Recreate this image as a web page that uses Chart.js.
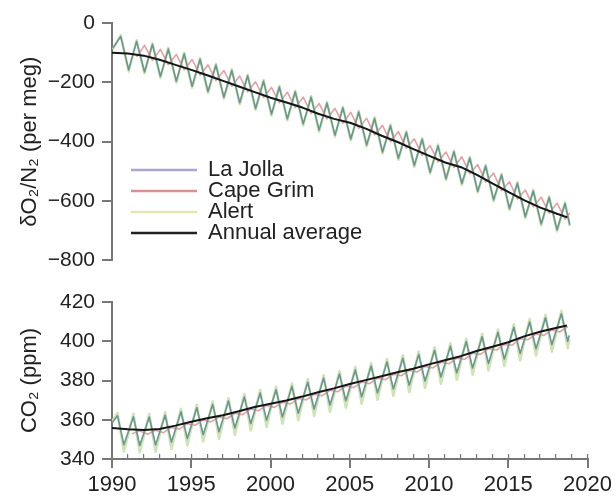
<!DOCTYPE html>
<html>
<head>
<meta charset="utf-8">
<title>O2/N2 and CO2 records</title>
<script src="https://cdn.jsdelivr.net/npm/chart.js@4.4.1/dist/chart.umd.min.js"></script>
<style>
    html, body { margin: 0; padding: 0; background: #fff; }
    #wrap { position: relative; width: 616px; height: 498px; }
    #o2Chart { position: absolute; left: 0; top: 0; }
    #co2Chart { position: absolute; left: 0; top: 280px; }
</style>
</head>
<body>
<div id="wrap">
    <canvas id="o2Chart" width="616" height="280"></canvas>
    <canvas id="co2Chart" width="616" height="218"></canvas>
</div>
<script>
// Years covered by the seasonal cycles
const years = [1990, 1991, 1992, 1993, 1994, 1995, 1996, 1997, 1998, 1999,
    2000, 2001, 2002, 2003, 2004, 2005, 2006, 2007, 2008, 2009,
    2010, 2011, 2012, 2013, 2014, 2015, 2016, 2017, 2018];
const annualYears = [1990, 1991, 1992, 1993, 1994, 1995, 1996, 1997, 1998, 1999,
    2000, 2001, 2002, 2003, 2004, 2005, 2006, 2007, 2008, 2009,
    2010, 2011, 2012, 2013, 2014, 2015, 2016, 2017, 2018, 2018.7];

// Tick labels
const xTicks = [1990, 1995, 2000, 2005, 2010, 2015, 2020];
const o2Ticks = [0, -200, -400, -600, -800];
const co2Ticks = [340, 360, 380, 400, 420];

// δO2/N2 (per meg) - seasonal minima / maxima per year
const laJollaO2Low = [-85, -158, -165, -180, -196, -213, -231, -250, -269, -288, -307, -323, -340, -361, -378, -391, -411, -435, -456, -480, -503, -525, -541, -567, -596, -625, -653, -677, -697];
const laJollaO2High = [-45, -62, -72, -88, -104, -122, -142, -160, -178, -196, -216, -232, -250, -270, -286, -300, -322, -346, -368, -392, -414, -434, -455, -482, -512, -540, -566, -588, -608];
const laJollaO2End = [2018.85, -680];

const alertO2Low = [-88, -163, -170, -185, -201, -218, -236, -255, -274, -293, -312, -328, -345, -366, -383, -396, -416, -440, -461, -485, -508, -530, -546, -572, -601, -630, -658, -682, -702];
const alertO2High = [-41, -58, -68, -84, -100, -118, -138, -156, -174, -192, -212, -228, -246, -266, -282, -296, -318, -342, -364, -388, -410, -430, -451, -478, -508, -536, -562, -584, -604];
const alertO2End = [2018.85, -684];

const capeGrimO2High = [null, null, -75, -89, -106, -123, -141, -160, -179, -198, -217, -233, -250, -271, -288, -301, -321, -345, -366, -390, -413, -435, -451, -477, -506, -535, -563, -587, -607];
const capeGrimO2Low = [null, -115, -126, -141, -158, -176, -194, -213, -232, -251, -269, -285, -305, -323, -338, -355, -377, -400, -422, -446, -468, -487, -508, -536, -565, -593, -619, -641, -661];
const capeGrimO2End = [2018.85, -640];

const annualO2 = [-100, -103, -110, -124, -141, -158, -176, -195, -214, -233, -252, -268, -285, -306, -323, -336, -356, -380, -401, -425, -448, -470, -486, -512, -541, -570, -598, -622, -642, -655];

// CO2 (ppm) - seasonal maxima / minima per year
const laJollaCo2High = [362.0, 361.5, 361.4, 362.3, 364.1, 366.1, 367.8, 369.5, 371.6, 373.6, 375.3, 377.0, 379.1, 381.2, 383.3, 385.4, 387.4, 389.4, 391.3, 393.3, 395.4, 397.5, 399.8, 402.3, 404.5, 407.1, 409.8, 412.0, 414.0];
const laJollaCo2Low = [347.3, 346.9, 347.2, 348.6, 350.5, 352.4, 353.9, 355.8, 358.0, 359.8, 361.4, 363.3, 365.5, 367.5, 369.7, 371.7, 373.7, 375.7, 377.6, 379.7, 381.8, 383.9, 386.4, 388.7, 390.9, 393.8, 396.2, 398.3, 400.0];
const laJollaCo2Start = [1990.0, 358.5];
const laJollaCo2End = [2018.85, 403.0];

const alertCo2High = [363.5, 363.0, 362.9, 363.8, 365.6, 367.6, 369.3, 371.0, 373.1, 375.1, 376.8, 378.5, 380.6, 382.7, 384.8, 386.9, 388.9, 390.9, 392.8, 394.8, 396.9, 399.0, 401.3, 403.8, 406.0, 408.6, 411.3, 413.5, 415.5];
const alertCo2Low = [343.8, 343.4, 343.7, 345.1, 347.0, 348.9, 350.4, 352.3, 354.5, 356.3, 357.9, 359.8, 362.0, 364.0, 366.2, 368.2, 370.2, 372.2, 374.1, 376.2, 378.3, 380.4, 382.9, 385.2, 387.4, 390.3, 392.7, 394.8, 396.5];
const alertCo2Start = [1990.0, 359.0];
const alertCo2End = [2018.85, 401.0];

const capeGrimCo2Low = [null, 352.8, 352.6, 353.4, 355.2, 357.2, 358.9, 360.5, 362.6, 364.6, 366.3, 368.0, 370.1, 372.2, 374.3, 376.4, 378.4, 380.4, 382.4, 384.3, 386.4, 388.5, 390.8, 393.3, 395.5, 398.0, 400.8, 403.0, 404.7];
const capeGrimCo2High = [null, 354.4, 354.7, 356.1, 358.0, 359.9, 361.4, 363.3, 365.5, 367.3, 368.9, 370.8, 373.0, 375.0, 377.2, 379.2, 381.2, 383.2, 385.1, 387.2, 389.3, 391.4, 393.9, 396.2, 398.4, 401.3, 403.7, 405.8, 407.5];

const annualCo2 = [355.8, 355.2, 354.8, 355.3, 357.0, 359.0, 360.8, 362.3, 364.3, 366.5, 368.2, 369.8, 371.8, 374.0, 376.0, 378.2, 380.2, 382.2, 384.2, 386.0, 388.2, 390.3, 392.4, 395.0, 397.2, 399.5, 402.5, 404.8, 406.8, 408.0];

// Time of year of the seasonal extremes
const o2North = { low: 0.05, high: 0.55 };
const o2South = { high: 0.05, low: 0.55 };
const co2North = { high: 0.35, low: 0.75 };
const co2South = { low: 0.25, high: 0.75 };

const colors = {
    laJolla: '#6c958f',
    capeGrim: '#e0a2a9',
    alert: '#cfe2b8',
    annual: '#151515',
    axis: '#777777',
    text: '#222222'
};

// Colores de la leyenda (como en la figura original)
const legendColors = {
    laJolla: '#aaa6cf',
    capeGrim: '#d99191',
    alert: '#e8e5b2',
    annual: '#222222'
};

Chart.defaults.font.family = '"Liberation Sans", Arial, sans-serif';
Chart.defaults.color = colors.text;

/**
 * Une mínimos y máximos de cada año en una sola serie de puntos
 */
function seasonal(lows, highs, phase, start, end) {
    const pts = [];
    if (start) pts.push({ x: start[0], y: start[1] });
    years.forEach((yr, i) => {
        [{ x: yr + phase.low, y: lows[i] }, { x: yr + phase.high, y: highs[i] }]
            .sort((a, b) => a.x - b.x)
            .forEach(p => { if (p.y !== null) pts.push(p); });
    });
    if (end) pts.push({ x: end[0], y: end[1] });
    return pts;
}

function annual(values) {
    return annualYears.map((yr, i) => ({ x: yr, y: values[i] }));
}

function line(label, data, color, width, order, legendColor) {
    return {
        label: label,
        data: data,
        xAxisID: 'x',
        borderColor: color,
        backgroundColor: color,
        borderWidth: width,
        pointRadius: 0,
        tension: 0,
        borderJoinStyle: 'round',
        order: order,
        legendColor: legendColor
    };
}

function minusSign(v) {
    return v < 0 ? '\u2212' + Math.abs(v) : String(v);
}

// Leyenda dentro del área del gráfico
const plotLegend = {
    id: 'plotLegend',
    afterDatasetsDraw(chart, args, opts) {
        const ctx = chart.ctx;
        ctx.save();
        ctx.font = opts.font;
        ctx.textBaseline = 'middle';
        chart.data.datasets.forEach((ds, i) => {
            const y = opts.top + i * opts.rowHeight;
            ctx.strokeStyle = ds.legendColor;
            ctx.lineWidth = 2.5;
            ctx.beginPath();
            ctx.moveTo(opts.left, y);
            ctx.lineTo(opts.left + opts.lineLength, y);
            ctx.stroke();
            ctx.fillStyle = colors.text;
            ctx.fillText(ds.label, opts.left + opts.lineLength + opts.gap, y);
        });
        ctx.restore();
    }
};

const yAxisBase = {
    afterFit(scale) { scale.width = 112; },
    border: { color: colors.axis, width: 2 },
    grid: { drawOnChartArea: false, tickLength: 10, color: colors.axis, lineWidth: 2 },
    ticks: { padding: 7, font: { size: 21 }, color: colors.text, callback: minusSign }
};

// Panel superior: δO2/N2
new Chart(document.getElementById('o2Chart'), {
    type: 'line',
    data: {
        datasets: [
            line('La Jolla', seasonal(laJollaO2Low, laJollaO2High, o2North, null, laJollaO2End), colors.laJolla, 1.6, 1, legendColors.laJolla),
            line('Cape Grim', seasonal(capeGrimO2Low, capeGrimO2High, o2South, null, capeGrimO2End), colors.capeGrim, 1.6, 2, legendColors.capeGrim),
            line('Alert', seasonal(alertO2Low, alertO2High, o2North, null, alertO2End), colors.alert, 2.6, 3, legendColors.alert),
            line('Annual average', annual(annualO2), colors.annual, 2, 0, legendColors.annual)
        ]
    },
    options: {
        responsive: false,
        animation: false,
        devicePixelRatio: 1,
        layout: { padding: { top: 23, right: 28, bottom: 19, left: 0 } },
        plugins: {
            legend: { display: false },
            tooltip: { enabled: false },
            plotLegend: { left: 131, top: 170, rowHeight: 21, lineLength: 66, gap: 11, font: '22px "Liberation Sans", Arial, sans-serif' }
        },
        scales: {
            x: { type: 'linear', min: xTicks[0], max: xTicks[xTicks.length - 1], display: false },
            y: {
                ...yAxisBase,
                min: o2Ticks[o2Ticks.length - 1],
                max: o2Ticks[0],
                afterBuildTicks(scale) { scale.ticks = o2Ticks.map(v => ({ value: v })); },
                title: { display: true, text: 'δO₂/N₂ (per meg)', font: { size: 22 }, color: colors.text, padding: { top: 17, bottom: 0 } }
            }
        }
    },
    plugins: [plotLegend]
});

// Panel inferior: CO2
new Chart(document.getElementById('co2Chart'), {
    type: 'line',
    data: {
        datasets: [
            line('La Jolla', seasonal(laJollaCo2Low, laJollaCo2High, co2North, laJollaCo2Start, laJollaCo2End), colors.laJolla, 1.6, 1, legendColors.laJolla),
            line('Cape Grim', seasonal(capeGrimCo2Low, capeGrimCo2High, co2South, null, null), colors.capeGrim, 1.6, 2, legendColors.capeGrim),
            line('Alert', seasonal(alertCo2Low, alertCo2High, co2North, alertCo2Start, alertCo2End), colors.alert, 2.6, 3, legendColors.alert),
            line('Annual average', annual(annualCo2), colors.annual, 2, 0, legendColors.annual)
        ]
    },
    options: {
        responsive: false,
        animation: false,
        devicePixelRatio: 1,
        layout: { padding: { top: 22, right: 28, bottom: 0, left: 0 } },
        plugins: {
            legend: { display: false },
            tooltip: { enabled: false }
        },
        scales: {
            x: {
                type: 'linear',
                min: xTicks[0],
                max: xTicks[xTicks.length - 1],
                afterFit(scale) { scale.height = 39; },
                afterBuildTicks(scale) { scale.ticks = xTicks.map(v => ({ value: v })); },
                border: { color: colors.axis, width: 2 },
                grid: { drawOnChartArea: false, tickLength: 9, color: colors.axis, lineWidth: 2 },
                ticks: { padding: 4, font: { size: 22 }, color: colors.text, maxRotation: 0, callback: v => String(v) }
            },
            xMinor: {
                type: 'linear',
                axis: 'x',
                position: { y: co2Ticks[0] },
                min: xTicks[0],
                max: xTicks[xTicks.length - 1],
                border: { display: false },
                grid: { drawOnChartArea: false, tickLength: -5, color: colors.axis, lineWidth: 1.2 },
                ticks: { display: false, stepSize: 1 }
            },
            y: {
                ...yAxisBase,
                min: co2Ticks[0],
                max: co2Ticks[co2Ticks.length - 1],
                afterBuildTicks(scale) { scale.ticks = co2Ticks.map(v => ({ value: v })); },
                title: { display: true, text: 'CO₂ (ppm)', font: { size: 22 }, color: colors.text, padding: { top: 17, bottom: 0 } }
            }
        }
    }
});
</script>
</body>
</html>
